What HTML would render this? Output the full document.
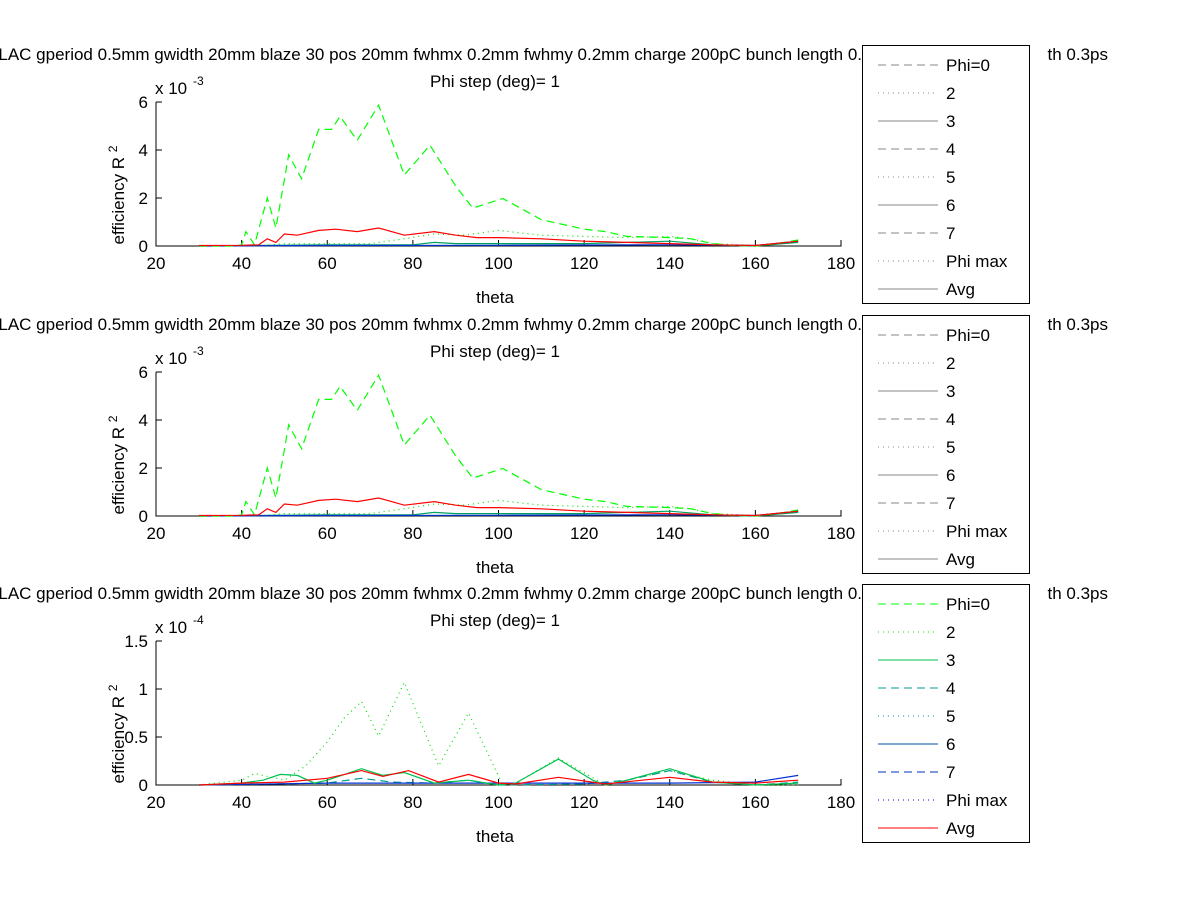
<!DOCTYPE html>
<html><head><meta charset="utf-8"><style>
html,body{margin:0;padding:0;background:#fff;}
svg{display:block;font-family:"Liberation Sans",sans-serif;}
</style></head><body>
<svg id="fig" width="1200" height="901" xmlns="http://www.w3.org/2000/svg"></svg>
<script>
// ---- data ----
const thetaTicks = [20,40,60,80,100,120,140,160,180];
const yTicksA = [0,2,4,6];
const yTicksC = [0,0.5,1,1.5];
const legendLabels = ["Phi=0","2","3","4","5","6","7","Phi max","Avg"];
// subplot 1/2 series (x1e-3)
const phi0Theta = [30,38,40,41,43,46,48,51,54,58,61,63,67,72,78,84,90,94,101,110,120,125,130,140,145,150,155,160,165,170];
const phi0Vals  = [0,0,0.05,0.6,0.05,2.0,0.75,3.8,2.8,4.86,4.86,5.4,4.4,5.87,2.96,4.2,2.5,1.58,1.98,1.1,0.7,0.6,0.4,0.35,0.3,0.1,0.02,0,0.1,0.25];
const avgTheta = [30,40,44,46,48,50,53,58,62,67,72,78,85,90,95,100,110,120,130,140,150,160,170];
const avgVals  = [0.02,0.03,0.05,0.3,0.15,0.5,0.45,0.65,0.7,0.6,0.75,0.45,0.6,0.45,0.35,0.35,0.3,0.2,0.15,0.1,0.05,0.02,0.2];
const phi2Theta = [30,45,50,70,78,85,92,100,110,120,130,140,145,150,160,170];
const phi2Vals  = [0,0.02,0.1,0.1,0.3,0.5,0.45,0.65,0.45,0.4,0.35,0.4,0.3,0.1,0.02,0.2];
const phi3Theta = [30,60,80,85,90,100,120,140,150,160,170];
const phi3Vals  = [0,0.05,0.05,0.15,0.1,0.1,0.1,0.2,0.05,0,0.15];
const phi6Theta = [30,60,100,140,160,170];
const phi6Vals  = [0,0.02,0.03,0.05,0.02,0.2];
// subplot 3 series (x1e-4)
const c2Theta = [30,40,43,50,55,60,64,68,72,78,86,93,101,104,114,125,140,150,160,170];
const c2Vals  = [0,0.05,0.12,0.05,0.2,0.45,0.7,0.87,0.51,1.07,0.2,0.75,0,0.02,0.28,0,0.15,0.05,0,0];
const c3Theta = [30,40,45,49,53,57,60,68,73,78,85,93,100,104,114,122,125,130,140,150,160,170];
const c3Vals  = [0,0.02,0.05,0.11,0.1,0.02,0.05,0.17,0.1,0.13,0.02,0.05,0,0.02,0.27,0.05,0,0.05,0.17,0.03,0,0.02];
const c4Theta = [30,60,68,75,85,93,100,120,130,140,150,160,170];
const c4Vals  = [0,0.02,0.07,0.03,0.02,0.05,0,0.01,0.05,0.15,0.03,0,0.03];
const cAvgTheta = [30,40,50,60,68,73,79,86,93,100,104,114,125,140,150,160,170];
const cAvgVals  = [0,0.02,0.03,0.07,0.15,0.09,0.15,0.03,0.11,0.02,0.01,0.08,0.01,0.08,0.03,0.02,0.05];
const cBlueTheta = [30,60,100,115,140,160,170];
const cBlueVals  = [0,0.02,0.02,0.02,0.02,0.03,0.1];

const NS="http://www.w3.org/2000/svg";
const svg=document.getElementById('fig');
function mk(tag,attrs,parent){const e=document.createElementNS(NS,tag);for(const k in attrs)e.setAttribute(k,attrs[k]);(parent||svg).appendChild(e);return e;}
const X0=156,X1=841;
function xs(t){return X0+(t-20)*(X1-X0)/160;}

function subplot(idx,off,yMax,yTicks,expTxt,series,legendGrey){
  const y0=246+off, yTop=102+off;
  const ys=v=>y0-(v/yMax)*(y0-yTop);
  const g=mk('g',{});
  
  
  let t=mk('text',{x:-12,y:60+off,'font-size':17},g);t.textContent="FLAC gperiod 0.5mm gwidth 20mm blaze 30 pos 20mm fwhmx 0.2mm fwhmy 0.2mm charge 200pC bunch length 0.3ps";
  
  t=mk('text',{x:1108,y:60+off,'font-size':17,'text-anchor':'end'},g);t.textContent="th 0.3ps";
  
  t=mk('text',{x:495,y:87+off,'font-size':17,'text-anchor':'middle'},g);t.textContent="Phi step (deg)= 1";
  
  let a=mk('path',{d:`M${X0} ${yTop}V${y0}H${X1}V${y0-6}`,stroke:'#000',fill:'none','stroke-width':1},g);
  
  thetaTicks.forEach(v=>{const x=xs(v);
    mk('line',{x1:x,x2:x,y1:y0,y2:y0-6,stroke:'#000'},g);
    const l=mk('text',{x:x,y:y0+23,'font-size':17,'text-anchor':'middle'},g);l.textContent=v;
    });
  yTicks.forEach(v=>{const y=ys(v);
    mk('line',{x1:X0,x2:X0+6,y1:y,y2:y,stroke:'#000'},g);
    const l=mk('text',{x:X0-8,y:y+6,'font-size':17,'text-anchor':'end'},g);l.textContent=v;
    });
  t=mk('text',{x:155,y:yTop-8,'font-size':17},g);t.textContent="x 10";
  
  t=mk('text',{x:193,y:yTop-17,'font-size':12},g);t.textContent=expTxt;
  
  t=mk('text',{x:495,y:y0+57,'font-size':17,'text-anchor':'middle'},g);t.textContent="theta";
  
  t=mk('text',{transform:`translate(124 ${y0-51}) rotate(-90)`,'font-size':17,'text-anchor':'middle'},g);t.textContent="efficiency R ";
  const sup=mk('tspan',{'font-size':12,dy:-7},t);sup.textContent="2";
  
  series.forEach(s=>{
    const pts=s.th.map((th,i)=>xs(th).toFixed(1)+','+ys(s.v[i]).toFixed(1)).join(' ');
    const p=mk('polyline',{points:pts,fill:'none',stroke:s.c,'stroke-width':1.2,'stroke-dasharray':s.d||'none'},g);
    
    
  });
  const lt=45+off;
  const lg=mk('g',{},g);
  
  mk('rect',{x:862.5,y:lt+0.5,width:167,height:258,fill:'#fff',stroke:'#000'},lg);
  const cols=["#00ff00","#00ee00","#00c050","#009a90","#00889a","#0050a0","#0030c0","#0000ff","#ff0000"];
  const dash=["8,5","1,4","none","8,5","1,4","none","8,5","1,4","none"];
  legendLabels.forEach((lab,i)=>{
    const y=lt+20+i*28;
    const e=mk('g',{},lg);
    
    mk('line',{x1:878,x2:938,y1:y,y2:y,stroke:legendGrey?'#888':cols[i],'stroke-dasharray':dash[i]},e);
    const tx=mk('text',{x:946,y:y+6,'font-size':17},e);tx.textContent=lab;
  });
}
const topSeries=[
 {n:'phi2',th:phi2Theta,v:phi2Vals,c:'#00dd00',d:'1,4'},
 {n:'phi3',th:phi3Theta,v:phi3Vals,c:'#00a060'},
 {n:'phi6',th:phi6Theta,v:phi6Vals,c:'#0030d0'},
 {n:'phi0',th:phi0Theta,v:phi0Vals,c:'#00ff00',d:'8,5'},
 {n:'avg',th:avgTheta,v:avgVals,c:'#ff0000'}];
subplot(1,0,6,yTicksA,"-3",topSeries,true);
subplot(2,270,6,yTicksA,"-3",topSeries,true);
subplot(3,539,1.5,yTicksC,"-4",[
 {n:'phi2',th:c2Theta,v:c2Vals,c:'#00dd00',d:'1,4'},
 {n:'phi4',th:c4Theta,v:c4Vals,c:'#009a90',d:'8,5'},
 {n:'phi6',th:cBlueTheta,v:cBlueVals,c:'#0030d0'},
 {n:'phi3',th:c3Theta,v:c3Vals,c:'#00c050'},
 {n:'avg',th:cAvgTheta,v:cAvgVals,c:'#ff0000'}],false);
</script>
</body></html>
